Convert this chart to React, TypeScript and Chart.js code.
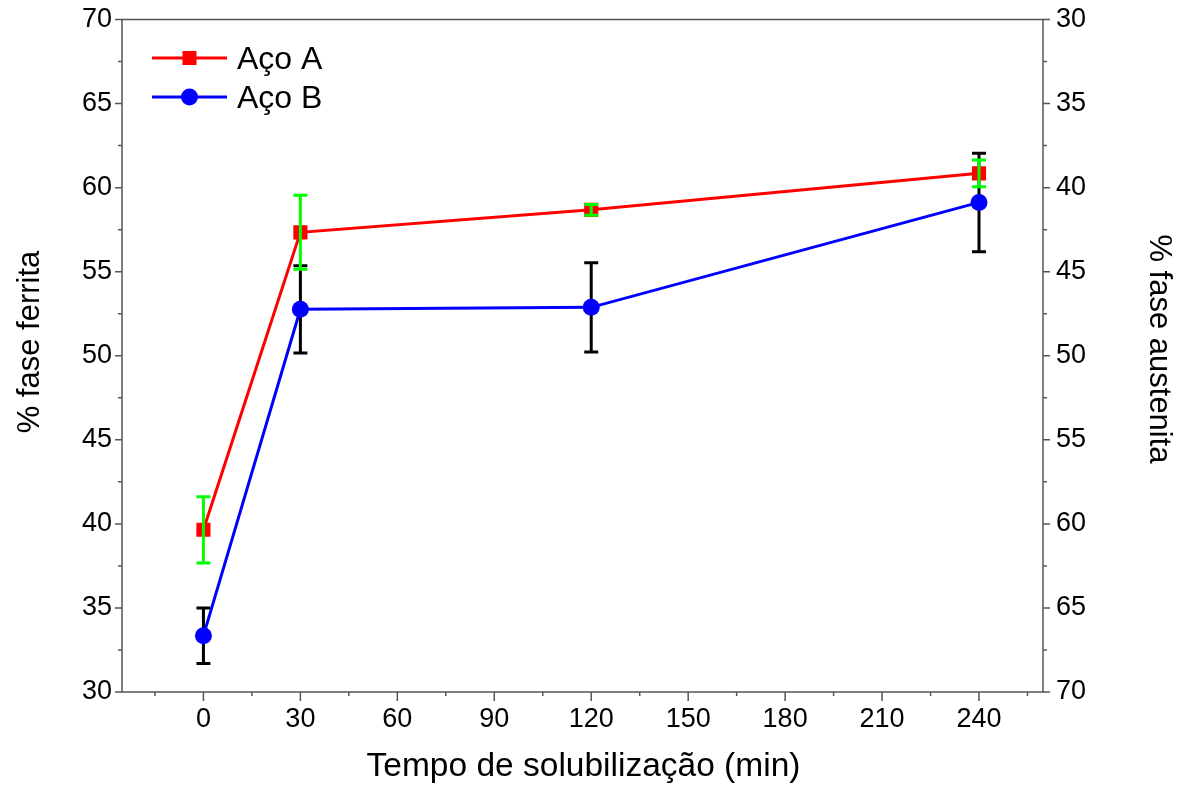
import { useEffect, useRef } from 'react';
import { Chart, registerables } from 'chart.js';

Chart.register(...registerables);

// ---------- data ----------
const times = [0, 30, 120, 240];
const acoA = [39.65, 57.34, 58.68, 60.85];
const acoAErr = [1.97, 2.2, 0.32, 0.8];
const acoB = [33.35, 52.76, 52.88, 59.12];
const acoBErr = [1.65, 2.6, 2.65, 2.93];

const xTickValues = [0, 30, 60, 90, 120, 150, 180, 210, 240];
const yTickValues = [30, 35, 40, 45, 50, 55, 60, 65, 70];

const seriesLabels = ['Aço A', 'Aço B'];
const xTitle = 'Tempo de solubilização (min)';
const yLeftTitle = '% fase ferrita';
const yRightTitle = '% fase austenita';

const FONT = '"Liberation Sans", Arial, Helvetica, sans-serif';
const AXIS_COLOR = '#555555';

const errorBarPlugin = {
  id: 'errorBars',
  beforeDatasetsDraw(chart: any) {
    drawErrors(chart, 1);
  },
  afterDatasetsDraw(chart: any) {
    drawErrors(chart, 0);
  },
};

function drawErrors(chart: any, index: number) {
  const ds = chart.data.datasets[index];
  const xs = chart.scales.x;
  const ys = chart.scales.y;
  const ctx = chart.ctx;
  ctx.save();
  ctx.strokeStyle = ds.errorColor;
  ctx.lineWidth = 3;
  ds.data.forEach((p: any, j: number) => {
    const e = ds.errors[j];
    const x = xs.getPixelForValue(p.x);
    const yt = ys.getPixelForValue(p.y + e);
    const yb = ys.getPixelForValue(p.y - e);
    ctx.beginPath();
    ctx.moveTo(x, yt);
    ctx.lineTo(x, yb);
    ctx.moveTo(x - 7, yt);
    ctx.lineTo(x + 7, yt);
    ctx.moveTo(x - 7, yb);
    ctx.lineTo(x + 7, yb);
    ctx.stroke();
  });
  ctx.restore();
}

const framePlugin = {
  id: 'frame',
  afterDraw(chart: any) {
    const { ctx, chartArea } = chart;
    const { left, right, top, bottom } = chartArea;
    const ys = chart.scales.y;
    const yr = chart.scales.y2;
    const xs = chart.scales.x;
    ctx.save();
    ctx.strokeStyle = AXIS_COLOR;
    ctx.lineWidth = 1.5;
    ctx.strokeRect(left, top, right - left, bottom - top);
    ctx.beginPath();
    for (let v = 30; v <= 70.001; v += 2.5) {
      const major = Math.abs(v / 5 - Math.round(v / 5)) < 1e-6;
      const len = major ? 7 : 4;
      const y = ys.getPixelForValue(v);
      ctx.moveTo(left - len, y);
      ctx.lineTo(left, y);
      const y2 = yr.getPixelForValue(v);
      ctx.moveTo(right, y2);
      ctx.lineTo(right + len, y2);
    }
    for (let v = -15; v <= 255; v += 15) {
      const x = xs.getPixelForValue(v);
      if (x < left - 0.5 || x > right + 0.5) continue;
      const major = v % 30 === 0;
      const len = major ? 9 : 4;
      ctx.moveTo(x, bottom);
      ctx.lineTo(x, bottom + len);
    }
    ctx.stroke();

    // axis titles
    ctx.fillStyle = '#000';
    ctx.textBaseline = 'alphabetic';
    ctx.textAlign = 'center';
    ctx.font = `33.5px ${FONT}`;
    ctx.fillText(xTitle, 583.5, 776);

    ctx.font = `31px ${FONT}`;
    ctx.save();
    ctx.translate(39, 342);
    ctx.rotate(-Math.PI / 2);
    ctx.fillText(yLeftTitle, 0, 0);
    ctx.restore();

    ctx.save();
    ctx.translate(1150, 349);
    ctx.rotate(Math.PI / 2);
    ctx.fillText(yRightTitle, 0, 0);
    ctx.restore();

    ctx.restore();
  },
};

const legendPlugin = {
  id: 'customLegend',
  afterDraw(chart: any) {
    const { ctx, chartArea } = chart;
    const { left, top } = chartArea;
    ctx.save();
    chart.data.datasets.forEach((ds: any, i: number) => {
      const y = top + 38.5 + i * 39;
      ctx.strokeStyle = ds.borderColor;
      ctx.lineWidth = 3;
      ctx.beginPath();
      ctx.moveTo(left + 30, y);
      ctx.lineTo(left + 105, y);
      ctx.stroke();
      ctx.fillStyle = ds.pointBackgroundColor;
      const cx = left + 67.5;
      if (ds.pointStyle === 'rect') {
        ctx.fillRect(cx - 7, y - 7, 14, 14);
      } else {
        ctx.beginPath();
        ctx.arc(cx, y, 8.5, 0, Math.PI * 2);
        ctx.fill();
      }
      ctx.fillStyle = '#000';
      ctx.font = `32px ${FONT}`;
      ctx.textBaseline = 'alphabetic';
      ctx.textAlign = 'left';
      ctx.fillText(ds.label, left + 115, y + 10.5);
    });
    ctx.restore();
  },
};

export default function App() {
  const ref = useRef<HTMLCanvasElement | null>(null);

  useEffect(() => {
    document.body.style.margin = '0';
    const canvas = ref.current;
    if (!canvas) return;
    const chart = new Chart(canvas, {
      type: 'line',
      data: {
        datasets: [
          {
            label: seriesLabels[0],
            data: times.map((t, i) => ({ x: t, y: acoA[i] })),
            borderColor: '#ff0000',
            backgroundColor: '#ff0000',
            pointBackgroundColor: '#ff0000',
            pointBorderWidth: 0,
            pointStyle: 'rect',
            pointRadius: 10,
            borderWidth: 3,
            tension: 0,
            errors: acoAErr,
            errorColor: '#00ff00',
          } as any,
          {
            label: seriesLabels[1],
            data: times.map((t, i) => ({ x: t, y: acoB[i] })),
            borderColor: '#0000ff',
            backgroundColor: '#0000ff',
            pointBackgroundColor: '#0000ff',
            pointBorderWidth: 0,
            pointStyle: 'circle',
            pointRadius: 8.5,
            borderWidth: 3,
            tension: 0,
            errors: acoBErr,
            errorColor: '#000000',
          } as any,
        ],
      },
      options: {
        responsive: false,
        animation: false,
        layout: { padding: { top: 19.5, left: 0, right: 0, bottom: 0 } },
        plugins: {
          legend: { display: false },
          tooltip: { enabled: false },
        },
        scales: {
          x: {
            type: 'linear',
            position: 'bottom',
            min: -25.2,
            max: 259.8,
            afterBuildTicks: (s: any) => {
              s.ticks = xTickValues.map((v) => ({ value: v }));
            },
            afterFit: (s: any) => {
              s.height = 93;
              s.paddingLeft = 0;
              s.paddingRight = 0;
            },
            grid: { display: true, drawOnChartArea: false, drawTicks: false, color: 'rgba(0,0,0,0)' },
            border: { display: false },
            ticks: {
              padding: 11,
              color: '#000',
              font: { family: FONT, size: 27 },
              maxRotation: 0,
              autoSkip: false,
            },
          },
          y: {
            type: 'linear',
            position: 'left',
            min: 30,
            max: 70,
            afterBuildTicks: (s: any) => {
              s.ticks = yTickValues.map((v) => ({ value: v }));
            },
            afterFit: (s: any) => {
              s.width = 122;
              s.paddingTop = 0;
              s.paddingBottom = 0;
            },
            grid: { display: true, drawOnChartArea: false, drawTicks: false, color: 'rgba(0,0,0,0)' },
            border: { display: false },
            ticks: {
              padding: 10,
              color: '#000',
              font: { family: FONT, size: 27 },
            },
          },
          y2: {
            type: 'linear',
            position: 'right',
            min: 30,
            max: 70,
            reverse: true,
            afterBuildTicks: (s: any) => {
              s.ticks = yTickValues.map((v) => ({ value: v }));
            },
            afterFit: (s: any) => {
              s.width = 148;
              s.paddingTop = 0;
              s.paddingBottom = 0;
            },
            grid: { display: true, drawOnChartArea: false, drawTicks: false, color: 'rgba(0,0,0,0)' },
            border: { display: false },
            ticks: {
              padding: 13,
              color: '#000',
              font: { family: FONT, size: 27 },
            },
          },
        },
      },
      plugins: [errorBarPlugin, framePlugin, legendPlugin],
    });
    return () => chart.destroy();
  }, []);

  return (
    <div style={{ width: 1191, height: 785 }}>
      <canvas ref={ref} width={1191} height={785} style={{ display: 'block' }} />
    </div>
  );
}
